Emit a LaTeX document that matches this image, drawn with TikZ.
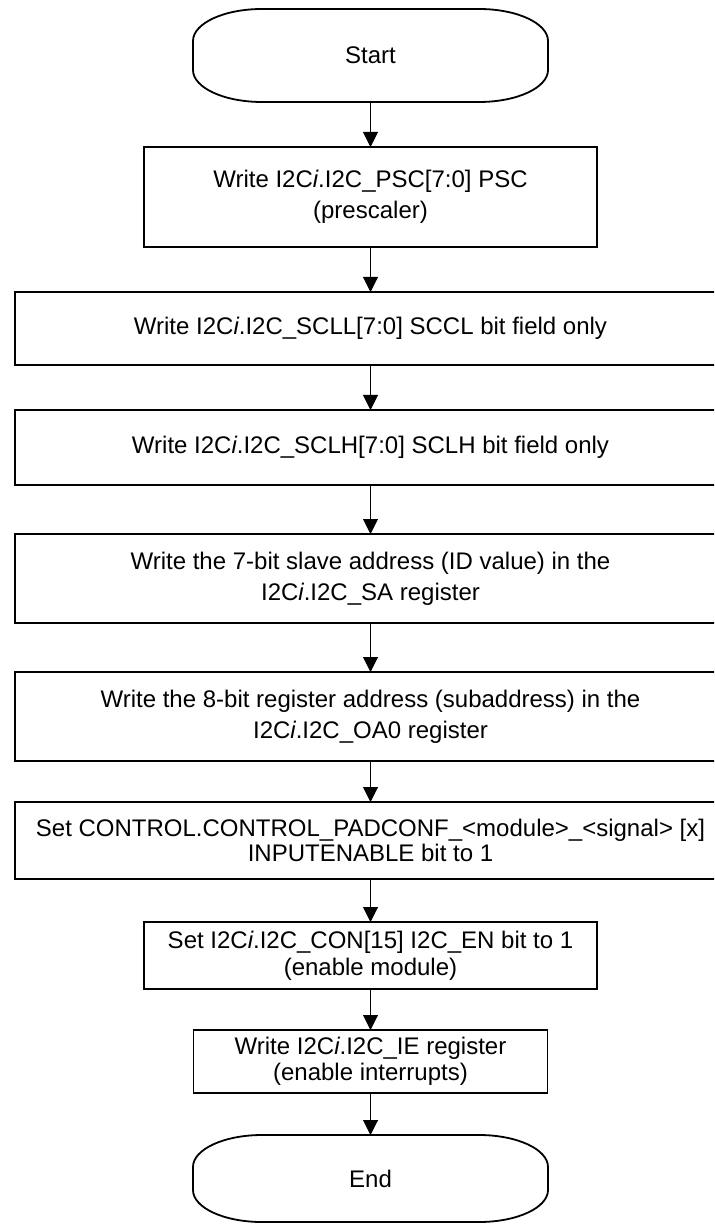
\documentclass[tikz,border=0pt]{standalone}
\usepackage{fontspec}
\setmainfont{Liberation Sans}
\usetikzlibrary{arrows.meta,positioning}
\tikzset{
  stepbox/.style={draw, line width=0.9pt, align=center, inner sep=2pt,
    outer sep=0pt, minimum width=226.5pt,
    font=\fontsize{12}{15.5}\selectfont},
  wide/.style={minimum width=355.7pt},
  term/.style={minimum width=177.5pt, minimum height=46.5pt, inner sep=2pt,
    outer sep=0pt, font=\fontsize{12}{15.5}\selectfont},
  flow/.style={-{Triangle[length=7.5pt,width=7.5pt]}, line width=0.5pt}}

\begin{document}
\begin{tikzpicture}[x=0.5pt, y=-0.5pt]
  % the page, the long boxes run past its right edge
  \clip (0,0) rectangle (714,1224);
  % ---- terminals and steps, top to bottom
  \node[term] (start) at (370.5,55.5) {Start};
  \node[stepbox, minimum height=50pt, below=22.5pt of start] (psc)
    {Write I2C\textit{i}.I2C\_PSC[7:0] PSC\\(prescaler)};
  \node[stepbox, wide, minimum height=36.5pt, below=22.5pt of psc] (scll)
    {Write I2C\textit{i}.I2C\_SCLL[7:0] SCCL bit field only};
  \node[stepbox, wide, minimum height=37.5pt, below=22.5pt of scll] (sclh)
    {Write I2C\textit{i}.I2C\_SCLH[7:0] SCLH bit field only};
  \node[stepbox, wide, minimum height=44.5pt, below=24.5pt of sclh] (sa)
    {Write the 7-bit slave address (ID value) in the\\
     I2C\textit{i}.I2C\_SA register};
  \node[stepbox, wide, minimum height=44.5pt, below=24.5pt of sa] (oa)
    {Write the 8-bit register address (subaddress) in the\\
     I2C\textit{i}.I2C\_OA0 register};
  \node[stepbox, wide, minimum height=38.5pt, below=20.5pt of oa] (padconf)
    {Set CONTROL.CONTROL\_PADCONF\_<module>\_<signal> [x]\\[-3pt]
     INPUTENABLE bit to 1};
  \node[stepbox, minimum height=33.5pt, below=21.5pt of padconf] (con)
    {Set I2C\textit{i}.I2C\_CON[15] I2C\_EN bit to 1\\[-2pt]
     (enable module)};
  \node[stepbox, minimum width=177pt, minimum height=31.5pt,
    below=20.5pt of con] (ie)
    {Write I2C\textit{i}.I2C\_IE register\\[-2.5pt](enable interrupts)};
  \node[term, minimum height=43.5pt, below=21pt of ie] (finish) {End};
  % ---- terminal outlines: flat top and bottom, elliptic ends
  \foreach \t in {start,finish}
    \draw[line width=0.9pt]
      ([xshift=34.5pt]\t.north west) -- ([xshift=-34.5pt]\t.north east)
      arc[start angle=90, end angle=0, x radius=34.5pt, y radius=16pt]
      -- ([yshift=16pt]\t.south east)
      arc[start angle=0, end angle=-90, x radius=34.5pt, y radius=16pt]
      -- ([xshift=34.5pt]\t.south west)
      arc[start angle=270, end angle=180, x radius=34.5pt, y radius=16pt]
      -- ([yshift=-16pt]\t.north west)
      arc[start angle=180, end angle=90, x radius=34.5pt, y radius=16pt]
      -- cycle;
  % ---- connectors
  \draw[flow] (start) -- (psc);
  \draw[flow] (psc) -- (scll);
  \draw[flow] (scll) -- (sclh);
  \draw[flow] (sclh) -- (sa);
  \draw[flow] (sa) -- (oa);
  \draw[flow] (oa) -- (padconf);
  \draw[flow] (padconf) -- (con);
  \draw[flow] (con) -- (ie);
  \draw[flow] (ie) -- (finish);
\end{tikzpicture}
\end{document}
